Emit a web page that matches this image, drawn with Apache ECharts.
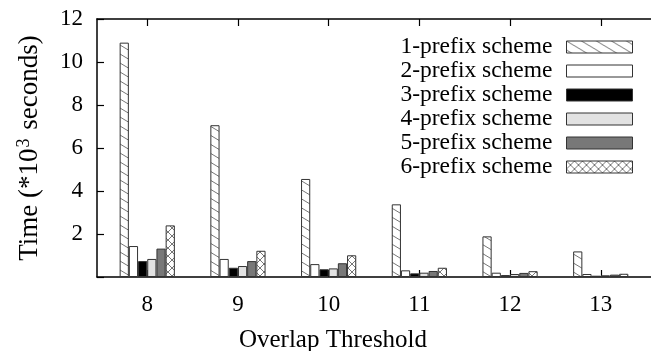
<!DOCTYPE html>
<html>
<head>
<meta charset="utf-8">
<script src="https://cdn.jsdelivr.net/npm/echarts@6/dist/echarts.min.js"></script>
<style>
  html, body { margin: 0; padding: 0; background: #fff; }
  #chart { width: 651px; height: 351px; }
</style>
</head>
<body>
<div id="chart"></div>
<script>
// Overlap thresholds on the x axis
const thresholds = [8, 9, 10, 11, 12, 13];
const schemeNames = ['1-prefix scheme', '2-prefix scheme', '3-prefix scheme',
                     '4-prefix scheme', '5-prefix scheme', '6-prefix scheme'];

// Running time in thousands of seconds, one array per scheme
const prefix1 = [10.9, 7.06, 4.56, 3.38, 1.89, 1.19];
const prefix2 = [1.44, 0.84, 0.60, 0.31, 0.20, 0.14];
const prefix3 = [0.74, 0.43, 0.36, 0.17, 0.09, 0.06];
const prefix4 = [0.84, 0.51, 0.40, 0.20, 0.14, 0.08];
const prefix5 = [1.32, 0.74, 0.64, 0.28, 0.19, 0.11];
const prefix6 = [2.40, 1.22, 1.01, 0.43, 0.27, 0.15];

const yTicks = [0, 2, 4, 6, 8, 10, 12];

// Fill patterns
function hatchPattern() {
  const c = document.createElement('canvas');
  c.width = 15; c.height = 9;
  const g = c.getContext('2d');
  g.fillStyle = '#fff';
  g.fillRect(0, 0, 15, 9);
  g.strokeStyle = '#777';
  g.lineWidth = 1;
  g.beginPath();
  g.moveTo(-15, -9); g.lineTo(30, 18);
  g.moveTo(-15, 0); g.lineTo(15, 18);
  g.moveTo(0, -9); g.lineTo(30, 9);
  g.stroke();
  return { image: c, repeat: 'repeat' };
}
function crossPattern() {
  const c = document.createElement('canvas');
  c.width = 8; c.height = 8;
  const g = c.getContext('2d');
  g.fillStyle = '#fff';
  g.fillRect(0, 0, 8, 8);
  g.strokeStyle = '#777';
  g.lineWidth = 1;
  g.beginPath();
  g.moveTo(-1, -1); g.lineTo(9, 9);
  g.moveTo(-1, 9); g.lineTo(9, -1);
  g.stroke();
  return { image: c, repeat: 'repeat' };
}

const fills = [hatchPattern(), '#ffffff', '#000000', '#e2e2e2', '#787878', crossPattern()];
const seriesValues = [prefix1, prefix2, prefix3, prefix4, prefix5, prefix6];

const FONT = 'Liberation Serif';

const chart = echarts.init(document.getElementById('chart'), null, { renderer: 'canvas' });

const xCommon = {
  type: 'value',
  min: 7.446,
  max: 13.554,
  splitLine: { show: false },
  axisLine: { show: true, lineStyle: { color: '#000', width: 1.5 } }
};

chart.setOption({
  animation: false,
  backgroundColor: '#fff',
  textStyle: { fontFamily: FONT },
  title: {
    text: 'Overlap Threshold',
    left: 328,
    textAlign: 'center',
    top: 323,
    textStyle: { fontFamily: FONT, fontSize: 25, fontWeight: 'normal', color: '#000' }
  },
  grid: { left: 97, top: 19, bottom: 74, right: -8, containLabel: false },
  legend: {
    orient: 'vertical',
    right: 13,
    top: 30,
    align: 'right',
    itemWidth: 66,
    itemHeight: 12,
    itemGap: 0,
    icon: 'rect',
    selectedMode: false,
    itemStyle: { borderColor: '#333', borderWidth: 1 },
    textStyle: { fontFamily: FONT, fontSize: 23.5, color: '#000', lineHeight: 24, padding: [0, 9, 0, 0] },
    data: schemeNames
  },
  xAxis: [
    Object.assign({}, xCommon, {
      position: 'bottom',
      axisTick: { show: true, inside: true, length: 7, customValues: thresholds, lineStyle: { color: '#000', width: 1.2 } },
      axisLabel: { customValues: thresholds, margin: 16, fontFamily: FONT, fontSize: 23, color: '#000' }
    }),
    Object.assign({}, xCommon, {
      position: 'top',
      axisTick: { show: true, inside: true, length: 7, customValues: thresholds, lineStyle: { color: '#000', width: 1.2 } },
      axisLabel: { show: false }
    })
  ],
  yAxis: {
    type: 'value',
    min: yTicks[0],
    max: yTicks[yTicks.length - 1],
    interval: 2,
    name: 'Time (*10{sup|3} seconds)',
    nameLocation: 'middle',
    nameGap: 52,
    nameTextStyle: {
      fontFamily: FONT, fontSize: 27, color: '#000',
      rich: { sup: { fontFamily: FONT, fontSize: 18, color: '#000', verticalAlign: 'top', padding: [0, 2, 12, 1] } }
    },
    splitLine: { show: false },
    axisLine: { show: true, lineStyle: { color: '#000', width: 1.5 } },
    axisTick: { show: true, inside: true, length: 7, lineStyle: { color: '#000', width: 1.2 } },
    axisLabel: {
      margin: 14, fontFamily: FONT, fontSize: 23, color: '#000',
      formatter: v => (v === 0 ? '' : String(v))
    }
  },
  series: schemeNames.map((name, i) => ({
    name: name,
    type: 'bar',
    xAxisIndex: 0,
    barWidth: 9.2,
    barGap: '0%',
    itemStyle: { color: fills[i], borderColor: '#333', borderWidth: 1 },
    data: thresholds.map((t, j) => [t, seriesValues[i][j]])
  }))
});
</script>
</body>
</html>
